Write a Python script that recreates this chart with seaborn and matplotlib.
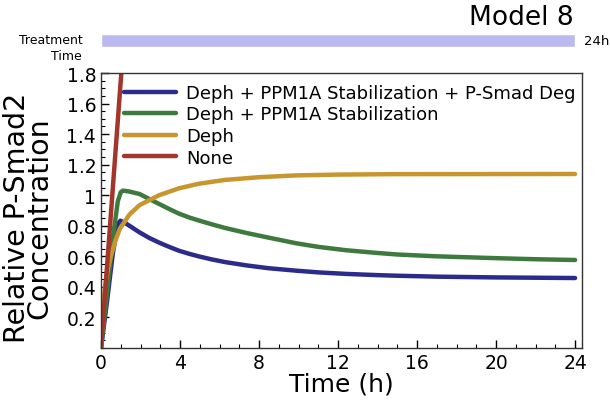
import numpy as np
import pandas as pd
import matplotlib
matplotlib.use("Agg")
import matplotlib.pyplot as plt
import seaborn as sns
from matplotlib.ticker import MultipleLocator

# Data
t_blue = [0, 0.3, 0.6, 0.85, 0.98, 1.2, 1.5, 1.95, 2.45, 2.94, 3.45, 3.94, 4.45, 4.94,
          5.6, 6.3, 7.4, 8.5, 9.9, 11, 12.4, 14, 15, 17, 20, 22, 24]
y_blue = [0, 0.3, 0.62, 0.81, 0.833, 0.82, 0.795, 0.757, 0.72, 0.69, 0.662, 0.637, 0.617,
          0.6, 0.58, 0.562, 0.54, 0.522, 0.506, 0.495, 0.485, 0.477, 0.473, 0.467, 0.462,
          0.46, 0.458]
t_green = [0, 0.3, 0.6, 0.85, 1.0, 1.11, 1.4, 1.95, 2.45, 2.94, 3.45, 3.94, 4.45, 4.94,
           5.6, 6.3, 7.4, 8.5, 9.9, 11, 12.4, 14, 15, 17, 20, 22, 24]
y_green = [0, 0.35, 0.72, 0.96, 1.02, 1.03, 1.025, 1.008, 0.975, 0.943, 0.91, 0.88, 0.855,
           0.835, 0.81, 0.785, 0.752, 0.722, 0.685, 0.662, 0.64, 0.622, 0.612, 0.6, 0.588,
           0.581, 0.576]
t_orange = [0, 0.1, 0.2, 0.35, 0.5, 0.7, 0.95, 1.45, 1.95, 2.94, 3.94, 4.94, 6.27, 8,
            9.9, 12, 15, 24]
y_orange = [0, 0.25, 0.4, 0.52, 0.6, 0.69, 0.78, 0.875, 0.935, 1.0, 1.045, 1.075, 1.1,
            1.118, 1.13, 1.135, 1.138, 1.139]
t_red = [0, 1.2]
y_red = [0, 2.1]

labels = ["Deph + PPM1A Stabilization + P-Smad Deg", "Deph + PPM1A Stabilization", "Deph", "None"]
colors = ["#2b2b8c", "#3e7a3e", "#c8962f", "#a3352b"]
treatment_start, treatment_end = 0, 24

frames = []
for t, y, lab in zip([t_blue, t_green, t_orange, t_red], [y_blue, y_green, y_orange, y_red], labels):
    frames.append(pd.DataFrame({"time": t, "value": y, "condition": lab}))
data = pd.concat(frames, ignore_index=True)

sns.set_style("white")
plt.rcParams["font.family"] = ["DejaVu Sans"]
plt.rcParams["text.color"] = "black"
plt.rcParams["axes.labelcolor"] = "black"
plt.rcParams["xtick.color"] = "black"
plt.rcParams["ytick.color"] = "black"

fig = plt.figure(figsize=(6.1, 4.14), dpi=100)
ax = fig.add_axes([101 / 610, 1 - 349 / 414, 481 / 610, 275 / 414])

sns.lineplot(data=data, x="time", y="value", hue="condition", hue_order=labels,
             palette=colors, linewidth=3.2, ax=ax, sort=False)

ax.set_xlim(0, 24.35)
ax.set_ylim(0, 1.8)
ax.xaxis.set_major_locator(MultipleLocator(4))
ax.xaxis.set_minor_locator(MultipleLocator(1))
ax.yaxis.set_minor_locator(MultipleLocator(0.05))
ax.tick_params(which="major", direction="in", length=6, width=1, labelsize=13.5)
ax.tick_params(which="minor", direction="in", length=3, width=0.8)
ax.tick_params(axis="y", which="both", left=True)
ax.tick_params(axis="x", which="both", bottom=True)
yt = [0.2, 0.4, 0.6, 0.8, 1.0, 1.2, 1.4, 1.6, 1.8]
ax.set_yticks(yt)
ax.set_yticklabels(["1" if v == 1.0 else f"{v:.1f}" for v in yt])
for s in ax.spines.values():
    s.set_color("#333333")
    s.set_linewidth(1)

ax.set_xlabel("Time (h)", fontsize=18, labelpad=0)
ax.set_ylabel("Relative P-Smad2\nConcentration", fontsize=20.5, linespacing=0.78)
ax.yaxis.set_label_coords(-0.098, 0.476)

leg = ax.legend(loc="upper left", frameon=False, fontsize=13, handlelength=2.9,
                bbox_to_anchor=(0.025, 1.0), borderaxespad=0.2, labelspacing=0.2,
                handletextpad=0.55)
for h in leg.get_lines():
    h.set_linewidth(3.2)

# Treatment time bar
bx = fig.add_axes([101 / 610, 1 - 48 / 414, 481 / 610, 13 / 414])
bx.barh([0], [treatment_end - treatment_start], left=treatment_start, height=1, color="#babaf0")
bx.set_xlim(0, 24.35)
bx.set_ylim(-0.5, 0.5)
bx.axis("off")
bx.text(24.45, 0, f"{treatment_end}h", va="center", ha="left", fontsize=9.5)
fig.text(83 / 610, 1 - 41 / 414, "Treatment", ha="right", va="center", fontsize=9)
fig.text(82 / 610, 1 - 57 / 414, "Time", ha="right", va="center", fontsize=9)
fig.text(0.94, 1 - 18 / 414, "Model 8", ha="right", va="center", fontsize=19)

fig.savefig("out.png", dpi=100)
